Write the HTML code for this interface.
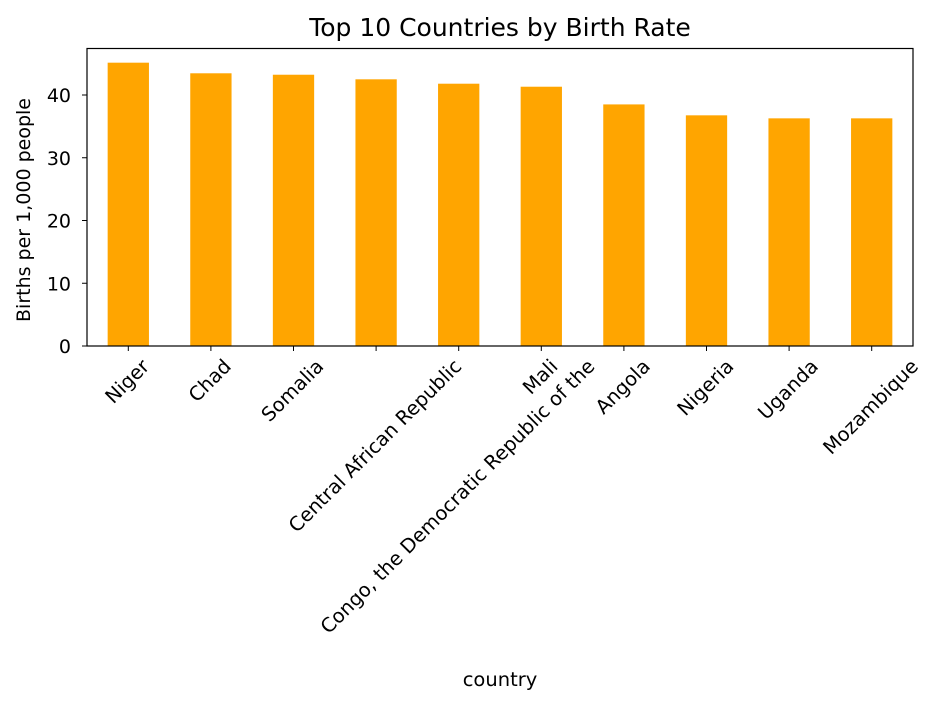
<!DOCTYPE html>
<html><head><meta charset="utf-8"><style>
body{margin:0;background:#fff;}
svg text{font-family:"DejaVu Sans","Liberation Sans",sans-serif;fill:#000;}
</style></head><body>
<svg id="chart" width="941" height="705">
<text x="500" y="36" font-size="25" text-anchor="middle">Top 10 Countries by Birth Rate</text>
<text transform="translate(30,210) rotate(-90)" font-size="19" text-anchor="middle">Births per 1,000 people</text>
<text x="500" y="686" font-size="19.5" text-anchor="middle">country</text>
<g id="bars"></g><g id="ticks"></g>
<rect x="87" y="48.5" width="826" height="297.5" fill="none" stroke="#000" stroke-width="1.2"/>
</svg>
<script>
const categories=["Niger","Chad","Somalia","Central African Republic","Congo, the Democratic Republic of the","Mali","Angola","Nigeria","Uganda","Mozambique"];
const values=[45.15,43.46,43.23,42.5,41.8,41.32,38.5,36.76,36.28,36.28];
const yTicks=[0,10,20,30,40];
const L=87,R=913,Y0=346,PX=6.275;
const ns="http://www.w3.org/2000/svg";
const slot=(R-L)/categories.length;
const xc=i=>L+slot*(i+0.5);
const y=v=>Y0-v*PX;
const bars=document.getElementById('bars'),ticks=document.getElementById('ticks');
function mk(t,a,p){const e=document.createElementNS(ns,t);for(const k in a)e.setAttribute(k,a[k]);p.appendChild(e);return e;}
categories.forEach((c,i)=>{
 const r=mk('rect',{x:xc(i)-slot*0.25,y:y(values[i]),width:slot*0.5,height:Y0-y(values[i]),fill:'#ffa500'},bars);
 
 
 const tk=mk('line',{x1:xc(i),x2:xc(i),y1:Y0,y2:Y0+5,stroke:'#000'},ticks);
 
 
 const t=mk('text',{'font-size':19.5,'text-anchor':'middle','dominant-baseline':'central'},ticks);
 t.textContent=c;
 
 
 const w=t.getComputedTextLength(),h=14;
 const cy=Y0+12+(w+h)*0.7071/2;
 t.setAttribute('transform',`translate(${xc(i)-1},${cy}) rotate(-45)`);
});
yTicks.forEach(v=>{
 const tk=mk('line',{x1:L-5,x2:L,y1:y(v),y2:y(v),stroke:'#000'},ticks);
 
 
 const t=mk('text',{x:L-16,y:y(v)+7,'font-size':19,'text-anchor':'end'},ticks);
 t.textContent=v;
 
 
});
</script>
</body></html>
